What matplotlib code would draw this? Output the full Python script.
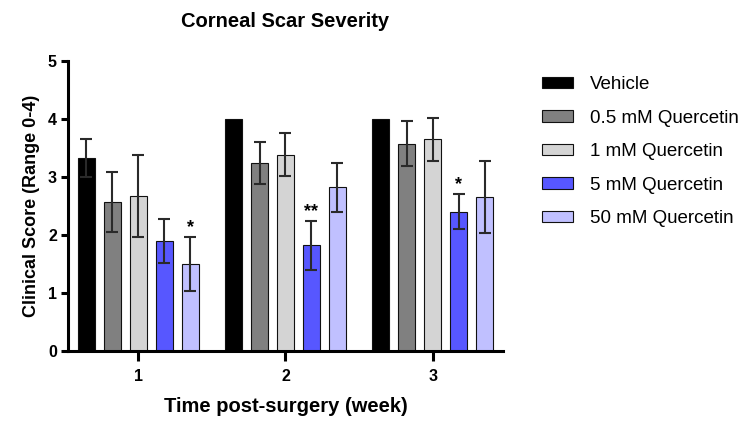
import numpy as np
import matplotlib.pyplot as plt

plt.rcParams['font.family'] = ['Liberation Sans', 'DejaVu Sans']

weeks = ['1', '2', '3']
groups = ['Vehicle', '0.5 mM Quercetin', '1 mM Quercetin', '5 mM Quercetin', '50 mM Quercetin']
colors = ['#000000', '#808080', '#d4d4d4', '#5757ff', '#c0c0ff']

# mean clinical score per group, one value per week
vehicle = [3.33, 4.0, 4.0]
q05 = [2.57, 3.24, 3.57]
q1 = [2.67, 3.38, 3.65]
q5 = [1.90, 1.82, 2.40]
q50 = [1.50, 2.82, 2.65]

# error (SEM)
vehicle_err = [0.33, 0.0, 0.0]
q05_err = [0.52, 0.36, 0.39]
q1_err = [0.70, 0.37, 0.37]
q5_err = [0.38, 0.42, 0.30]
q50_err = [0.46, 0.42, 0.62]

# significance marks: (group index, week index, text)
stars = [(4, 0, '*'), (3, 1, '**'), (3, 2, '*')]

means = [vehicle, q05, q1, q5, q50]
errs = [vehicle_err, q05_err, q1_err, q5_err, q50_err]

fig = plt.figure(figsize=(7.53, 4.23), dpi=100)
ax = fig.add_axes([0.0903, 0.170, 0.5777, 0.6865])

x = np.arange(1, len(weeks) + 1)
step = 0.176
width = 0.115
for i, (m, e) in enumerate(zip(means, errs)):
    pos = x + (i - 2) * step
    ax.bar(pos, m, width=width, color=colors[i], edgecolor='#111111',
           linewidth=0.8, label=groups[i], zorder=2)
    ee = np.array(e)
    mask = ee > 0
    ax.errorbar(pos[mask], np.array(m)[mask], yerr=ee[mask], fmt='none',
                ecolor='#2a2a2a', elinewidth=1.5, capsize=4, capthick=1.5, zorder=3)

for gi, wi, txt in stars:
    xp = x[wi] + (gi - 2) * step
    top = means[gi][wi] + errs[gi][wi]
    ax.text(xp, top + 0.02, txt, ha='center', va='bottom', fontsize=13, fontweight='bold')

ax.set_xlim(0.523, 3.477)
ax.set_ylim(0, 5)
ax.set_xticks(x)
ax.set_xticklabels(weeks)
ax.set_yticks([0, 1, 2, 3, 4, 5])
for s in ['top', 'right']:
    ax.spines[s].set_visible(False)
for s in ['left', 'bottom']:
    ax.spines[s].set_linewidth(2.2)
ax.tick_params(axis='x', length=7, width=2.2, labelsize=11.5, pad=6)
ax.tick_params(axis='y', length=5, width=2.2, labelsize=11.5, pad=3)
for lab in ax.get_xticklabels() + ax.get_yticklabels():
    lab.set_fontweight('bold')

ax.set_xlabel('Time post-surgery (week)', fontsize=14.5, fontweight='bold', labelpad=9)
ax.set_ylabel('Clinical Score (Range 0-4)', fontsize=13, fontweight='bold', labelpad=6)
ax.set_title('Corneal Scar Severity', fontsize=14.5, fontweight='bold', pad=24)

leg = ax.legend(loc='upper left', bbox_to_anchor=(1.05, 1.005), frameon=False,
                fontsize=13.5, handlelength=1.65, handleheight=0.53,
                labelspacing=0.88, handletextpad=0.95)

fig.savefig('out.png', dpi=100)
